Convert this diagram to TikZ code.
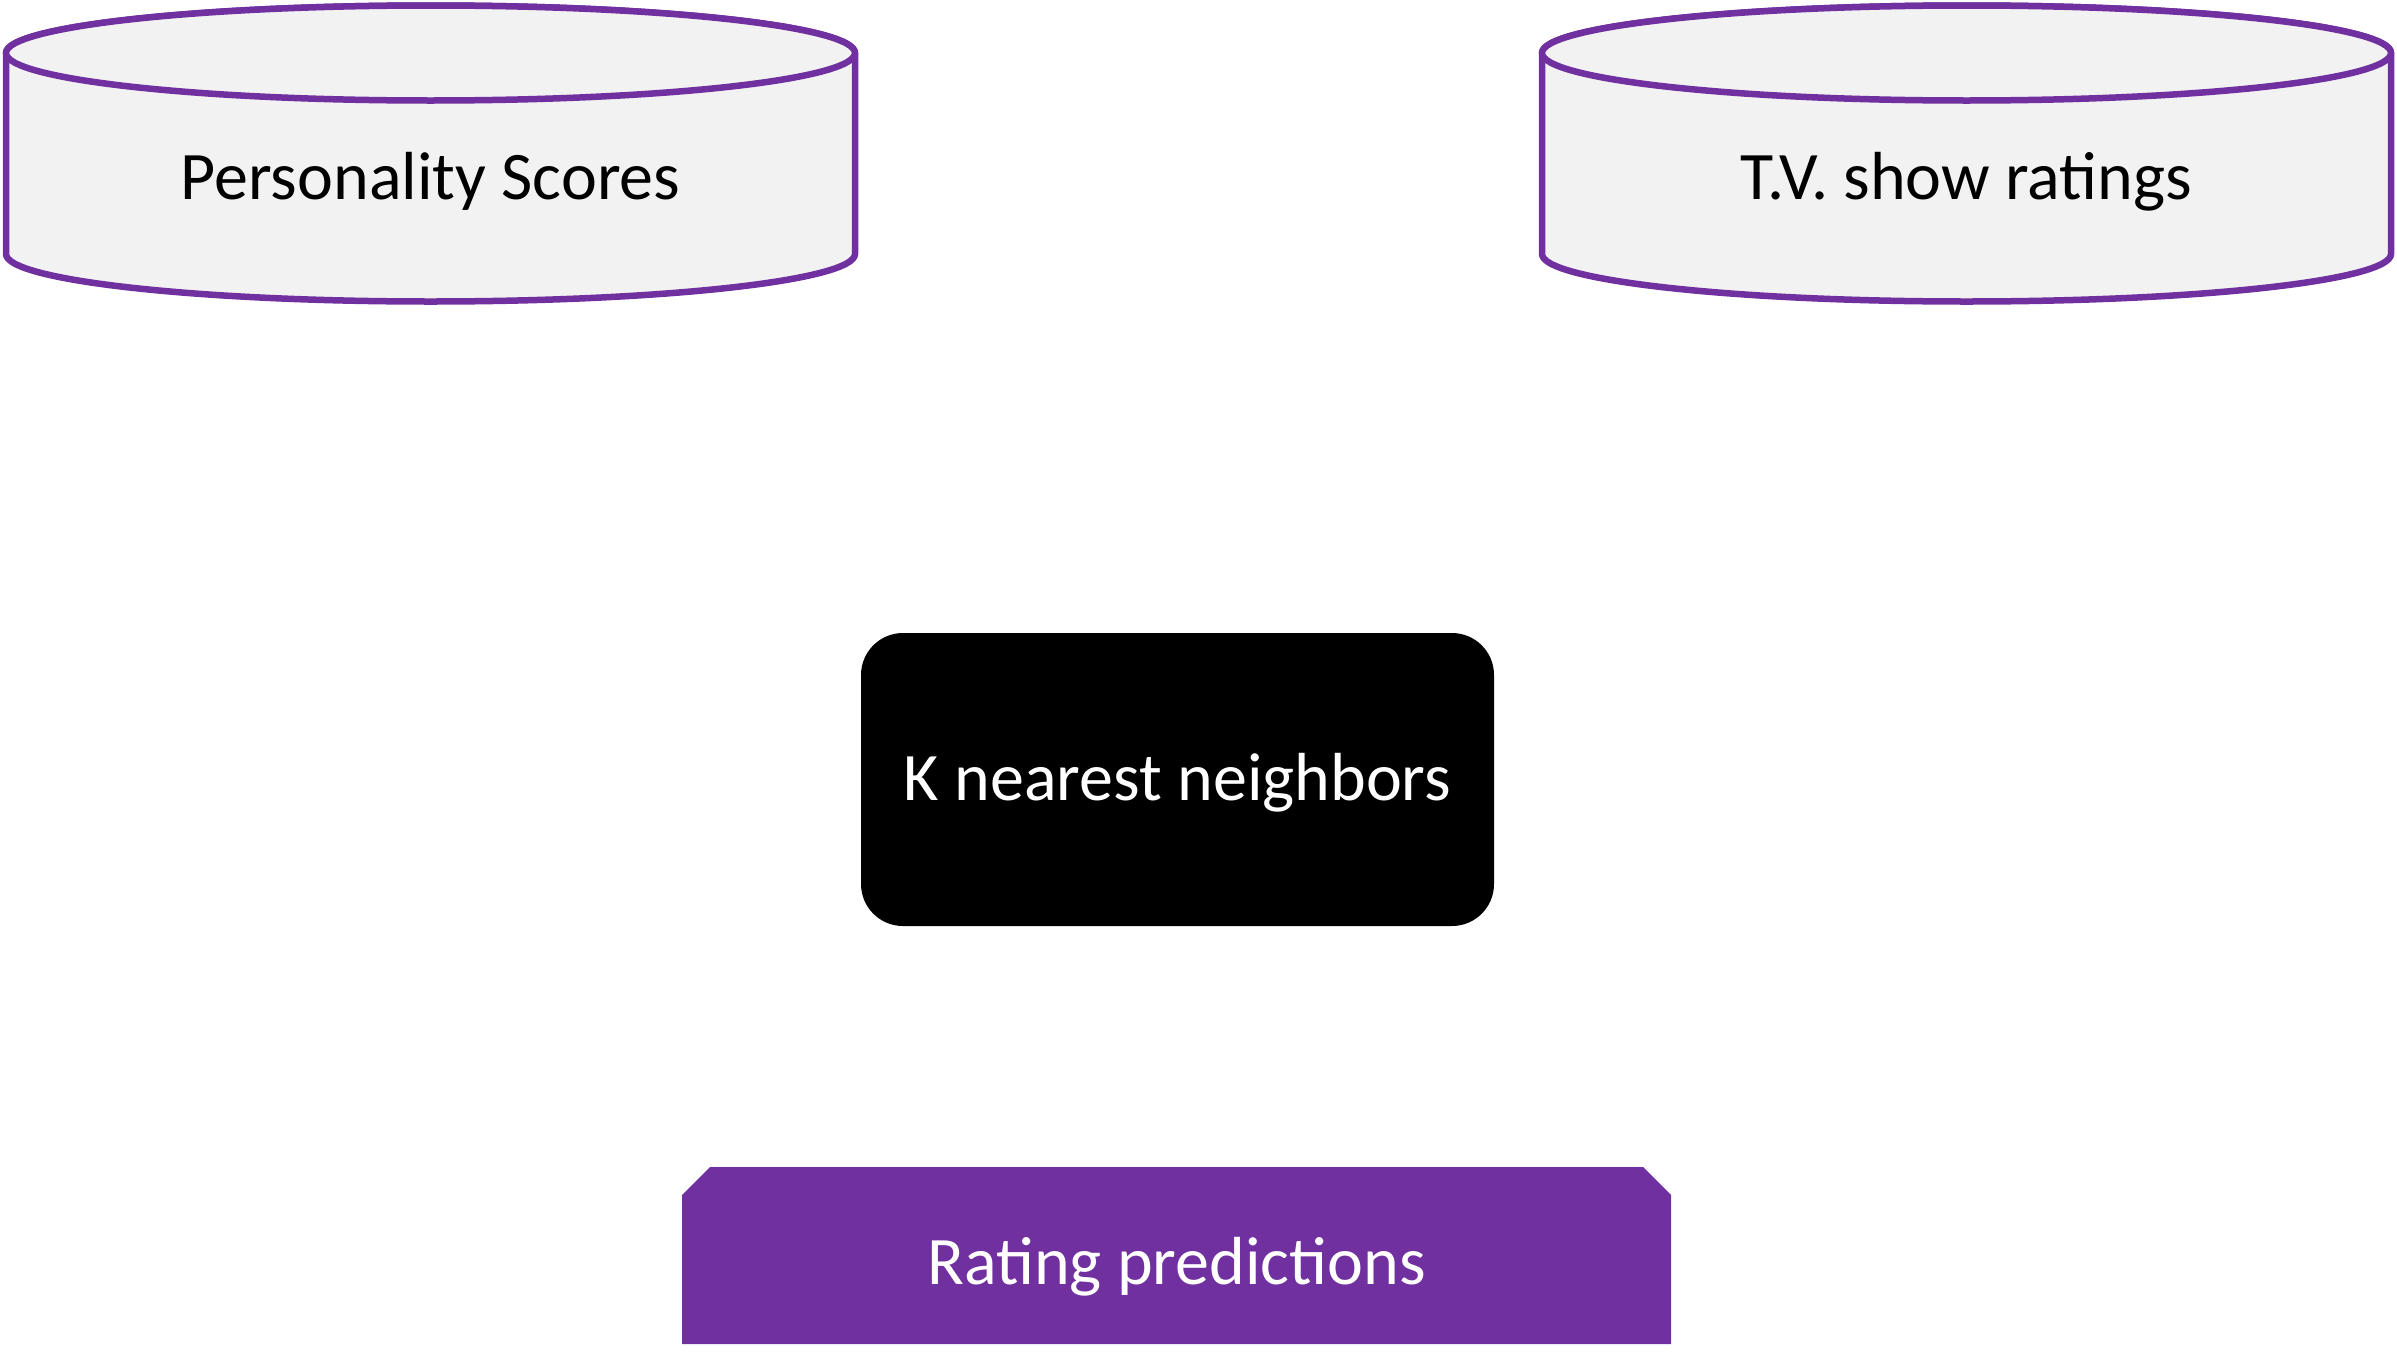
\documentclass[tikz,border=0pt]{standalone}
\usepackage{fontspec}
\setmainfont{Carlito}
\definecolor{officepurple}{HTML}{7030A0}
\definecolor{cylgray}{HTML}{F2F2F2}
\tikzset{
  cylline/.style={draw=officepurple, line width=6.5pt, line join=round, fill=cylgray},
  lbl/.style={font=\fontsize{68}{80}\selectfont, anchor=base, inner sep=0pt},
}
\begin{document}
\begin{tikzpicture}[x=1pt,y=-1pt]
\useasboundingbox (0,0) rectangle (2397,1352);
% left cylinder
\path[cylline] (6,53) -- (6,254) arc[start angle=180,end angle=0,x radius=424.5,y radius=47.5] -- (855,53) arc[start angle=0,end angle=-180,x radius=424.5,y radius=47.5] -- cycle;
\draw[cylline] (430.5,53) ellipse[x radius=424.5,y radius=47.5];
\node[lbl] (ps) at (430.5,199) {Personality Scores};
% right cylinder
\path[cylline] (1542,53) -- (1542,254) arc[start angle=180,end angle=0,x radius=424.5,y radius=47.5] -- (2391,53) arc[start angle=0,end angle=-180,x radius=424.5,y radius=47.5] -- cycle;
\draw[cylline] (1966.5,53) ellipse[x radius=424.5,y radius=47.5];
\node[lbl] (tv) at (1966.5,199) {T.V. show ratings};
% KNN box
\node[rectangle, rounded corners=42pt, fill=black, minimum width=633pt, minimum height=293pt, inner sep=0pt] (knnbox) at (1177.5,779.5) {};
\node[lbl, text=white] (knn) at (1177.5,800) {K nearest neighbors};
% Rating predictions
\path[fill=officepurple] (682,1344) -- (682,1195) -- (710,1167) -- (1643,1167) -- (1671,1195) -- (1671,1344) -- cycle;
\node[lbl, text=white] (rp) at (1176.5,1284) {Rating predictions};
\end{tikzpicture}
\end{document}
